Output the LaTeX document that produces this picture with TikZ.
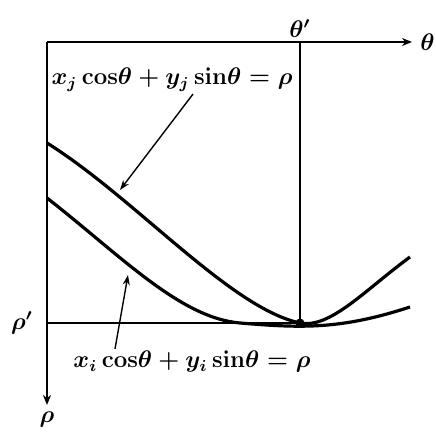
\documentclass[tikz,border=0pt]{standalone}
\usepackage{tikz}
\usetikzlibrary{arrows.meta,positioning,calc}
\usepackage{amsmath}

\begin{document}
\begin{tikzpicture}[
    x=0.5pt, y=-0.5pt,
    axis/.style={line width=1pt, -{Stealth[length=5pt, width=4pt]}},
    guide/.style={line width=0.9pt},
    curve/.style={line width=1.6pt, line join=round},
    arr/.style={line width=0.7pt, -{Stealth[length=5pt, width=3.5pt]}},
    lbl/.style={font=\fontsize{12}{14}\selectfont\boldmath, inner sep=1pt}
]
\useasboundingbox (0,0) rectangle (436,432);

% axes
\coordinate (o) at (47,42);
\coordinate (thend) at (412,42);
\coordinate (rhoend) at (47,405);
\draw[axis] (o) -- (thend);
\draw[axis] (o) -- (rhoend);
\node[lbl, right=3pt of thend] (theta) {$\theta$};
\node[lbl, below=2pt of rhoend] (rho) {$\rho$};

% the common point
\coordinate (top) at (300,42);
\coordinate (left) at (47,323);
\coordinate (pt) at (300,323);
\draw[guide] (top) -- (pt);
\draw[guide] (left) -- (pt);
\node[lbl, above=1pt of top] (thetap) {$\theta'$};
\node[lbl, left=6pt of left] (rhop) {$\rho'$};

% the two sinusoids
\draw[curve] (47,143) .. controls (135,198) and (230,308) .. (pt)
    .. controls (330,329) and (365,290) .. (410,257);
\draw[curve] (47,198) .. controls (120,255) and (180,318) .. (240,323)
    .. controls (300,328) and (340,330) .. (410,307);
\fill (pt) circle (4.5);

\node[lbl] (lblj) at (172,80) {$x_j\,\mathrm{cos}\theta + y_j\,\mathrm{sin}\theta = \rho$};
\node[lbl] (lbli) at (192,362) {$x_i\,\mathrm{cos}\theta + y_i\,\mathrm{sin}\theta = \rho$};
\coordinate (onj) at (120,190);
\coordinate (oni) at (128,275);
\draw[arr] ([xshift=10.5pt]lblj.south) -- (onj);
\draw[arr] ([xshift=-38.5pt]lbli.north) -- (oni);
\end{tikzpicture}
\end{document}
